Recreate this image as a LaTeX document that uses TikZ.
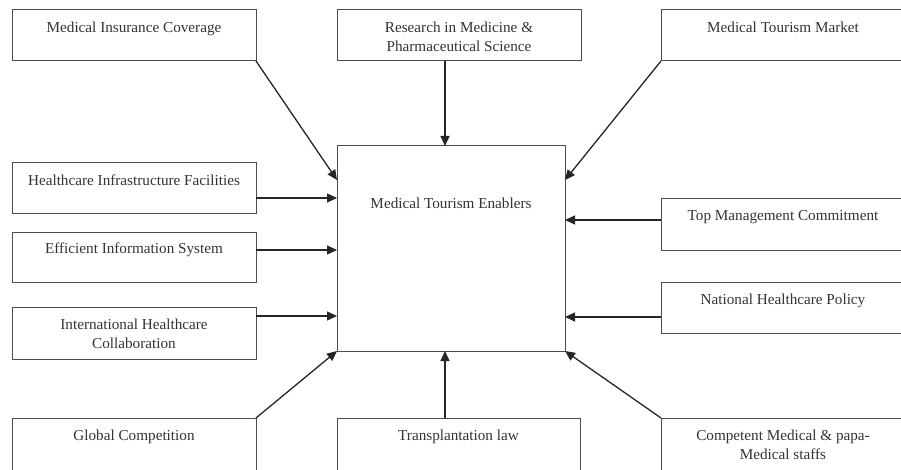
\documentclass[tikz,border=0pt]{standalone}
\usepackage{fontspec}
\setmainfont{Liberation Serif}
\usetikzlibrary{arrows.meta}
\begin{document}
\begin{tikzpicture}[x=1pt,y=-1pt,
  box/.style={draw=black!70, line width=1pt, anchor=north west, inner sep=0pt, outer sep=0pt, minimum width=244pt, minimum height=51pt},
  lab/.style={anchor=north, align=center, inner sep=0pt, yshift=-11.5pt, font=\fontsize{15.2}{19}\selectfont, text=black!80},
  arr/.style={line width=1.3pt, draw=black!85, -{Triangle[length=10pt,width=9pt]}}]
\useasboundingbox (0,0) rectangle (901,470);
\clip (0,0) rectangle (901,470);
% top row
\node[box, label={[lab]north:{Medical Insurance Coverage}}] (mic) at (12,10) {};
\node[box, label={[lab]north:{Research in Medicine \&\\Pharmaceutical Science}}] (rmps) at (337,10) {};
\node[box, label={[lab]north:{Medical Tourism Market}}] (mtm) at (661,10) {};
% left column
\node[box, label={[lab]north:{Healthcare Infrastructure Facilities}}] (hif) at (12,163) {};
\node[box, minimum height=49pt, label={[lab, yshift=2pt]north:{Efficient Information System}}] (eis) at (12,233) {};
\node[box, minimum height=52pt, label={[lab]north:{International Healthcare\\Collaboration}}] (ihc) at (12,307) {};
\node[box, minimum height=53pt, label={[lab]north:{Global Competition}}] (gc) at (12,418) {};
% right column
\node[box, label={[lab]north:{Top Management Commitment}}] (tmc) at (661,199) {};
\node[box, label={[lab]north:{National Healthcare Policy}}] (nhp) at (661,282) {};
\node[box, minimum height=53pt, label={[lab]north:{Competent Medical \& papa-\\Medical staffs}}] (cmp) at (661,418) {};
% bottom middle
\node[box, minimum width=243pt, minimum height=53pt, label={[lab]north:{Transplantation law}}] (tl) at (337,418) {};
% centre
\node[box, minimum width=228pt, minimum height=205pt, label={[lab, yshift=-40pt]north:{Medical Tourism Enablers}}] (center) at (337,146) {};
% connectors
\draw[arr] (mic.south east) -- ([yshift=-34pt]center.north west);
\draw[arr] ([xshift=-14pt]rmps.south) -- ([xshift=-6pt]center.north);
\draw[arr] (mtm.south west) -- ([yshift=-34pt]center.north east);
\draw[arr] ([yshift=-9.5pt]hif.east) -- ([yshift=50.5pt]center.west);
\draw[arr] ([yshift=7.5pt]eis.east) -- ([yshift=-1.5pt]center.west);
\draw[arr] ([yshift=17pt]ihc.east) -- ([yshift=-67.5pt]center.west);
\draw[arr] ([yshift=4.5pt]tmc.west) -- ([yshift=28.5pt]center.east);
\draw[arr] ([yshift=-9.5pt]nhp.west) -- ([yshift=-68.5pt]center.east);
\draw[arr] (gc.north east) -- (center.south west);
\draw[arr] ([xshift=-13.5pt]tl.north) -- ([xshift=-6pt]center.south);
\draw[arr] (cmp.north west) -- (center.south east);
\end{tikzpicture}
\end{document}
